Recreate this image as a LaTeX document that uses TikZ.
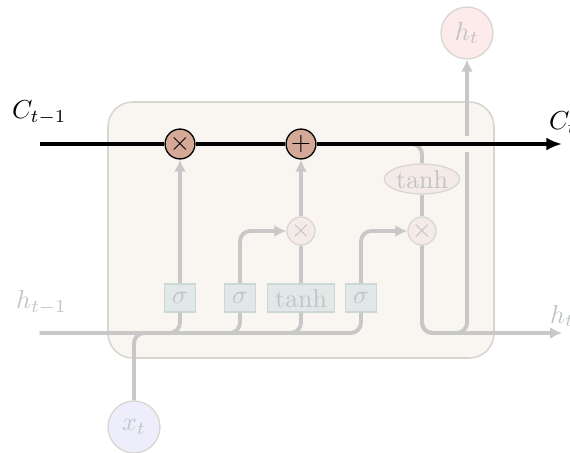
\documentclass[tikz,border=0pt]{standalone}
\usepackage{amsmath}
\usetikzlibrary{arrows.meta, positioning, calc, shapes.geometric}
\definecolor{cellfill}{HTML}{F9F6F2}
\definecolor{celledge}{HTML}{D9D6D2}
\definecolor{wiregray}{HTML}{C8C8C8}
\definecolor{opfill}{HTML}{D4A998}
\definecolor{opfaint}{HTML}{F4EAE7}
\definecolor{gatefill}{HTML}{E1E9E8}
\definecolor{gateedge}{HTML}{CCD8D6}
\definecolor{faintext}{HTML}{C0C4C4}
\definecolor{hfill}{HTML}{FDEAEA}
\definecolor{xfill}{HTML}{EDEDFC}
\tikzset{
  cellbox/.style={draw=celledge, fill=cellfill, rounded corners=9.5pt, line width=0.6pt},
  op/.style={circle, draw=black, fill=opfill, minimum size=11.5pt, inner sep=0pt, line width=0.5pt},
  faintop/.style={circle, draw=celledge, fill=opfaint, minimum size=10.8pt, inner sep=0pt,
    line width=0.5pt, text=faintext},
  gate/.style={rectangle, draw=gateedge, fill=gatefill, minimum width=11.5pt,
    minimum height=10.8pt, inner xsep=3pt, inner ysep=1pt, line width=0.5pt, text=faintext},
  squash/.style={ellipse, draw=celledge, fill=opfaint, minimum width=29pt,
    minimum height=11.5pt, inner sep=0pt, line width=0.5pt, text=faintext},
  state/.style={circle, draw=celledge, minimum size=20pt, inner sep=0pt, line width=0.5pt, text=faintext},
  wire/.style={wiregray, line width=1.5pt, rounded corners=4pt},
  wirearrow/.style={wire, -{Latex[length=4.6pt, width=4.6pt]}},
  cellline/.style={black, line width=1.5pt},
  mask/.style={cellfill, line width=1.5pt},
  faintlabel/.style={text=faintext, anchor=west},
}

\begin{document}
\begin{tikzpicture}[x=0.385pt, y=-0.385pt]
  \useasboundingbox (0,0) rectangle (570,452);

  % cell body
  \draw[cellbox] (108,102) rectangle (494,358);

  % operations on the cell state
  \node[op] (forget) at (180,144) {$\times$};
  \node[op] (plus) at (301,144) {$+$};

  % gate layers
  \node[gate] (fgate) at (180,298) {$\sigma$};
  \node[gate] (igate) at (240,298) {$\sigma$};
  \node[gate] (cand) at (301,298) {$\tanh$};
  \node[gate] (ogate) at (361,298) {$\sigma$};

  \node[faintop] (imul) at (301,231) {$\times$};
  \node[faintop] (omul) at (422,231) {$\times$};
  \node[squash] (ctanh) at (422,179) {$\tanh$};

  % inputs and outputs
  \node[state, fill=hfill] (ht) at (467,33) {$h_t$};
  \node[state, fill=xfill] (xt) at (134,427) {$x_t$};

  \coordinate (cin) at (40,144);
  \coordinate (cout) at (562,144);
  \coordinate (hin) at (40,333);
  \coordinate (hout) at (562,333);
  \coordinate (tap) at (398,144);
  \coordinate (hturn) at (ht |- hin);
  \coordinate (cross) at (ht |- cin);

  \node[anchor=west] (cprev) at (3,113) {$C_{t-1}$};
  \node[anchor=west] (cnext) at (540,123) {$C_t$};
  \node[faintlabel] (hprev) at (7,303) {$h_{t-1}$};
  \node[faintlabel] (hnext) at (541,316) {$h_t$};

  % hidden state and input feeding the gates
  \draw[wire] (hin) -| (fgate.south);
  \draw[wire] (hin) -| (igate.south);
  \draw[wire] (hin) -| (cand.south);
  \draw[wire] (hin) -| (ogate.south);
  \draw[wire] (xt.north) |- (fgate |- hin);

  \draw[wirearrow] (fgate.north) -- (forget.south);
  \draw[wirearrow] (igate.north) |- (imul.west);
  \draw[wire] (cand.north) -- (imul.south);
  \draw[wirearrow] (imul.north) -- (plus.south);
  \draw[wirearrow] (ogate.north) |- (omul.west);
  \draw[wire] (ctanh.south) -- (omul.north);

  % output
  \draw[wirearrow] (omul.south) |- (hout);
  \draw[wirearrow] (omul.south) |- (hturn) -- (ht.south);

  % cell state line
  \draw[mask] ([yshift=-3pt]cross) -- ([yshift=3pt]cross);
  \draw[wire] (tap) -| (ctanh.north);
  \draw[cellline] (cin) -- (forget) -- (plus);
  \draw[cellline, -{Latex[length=6pt, width=5pt]}] (plus) -- (cout);

\end{tikzpicture}
\end{document}
